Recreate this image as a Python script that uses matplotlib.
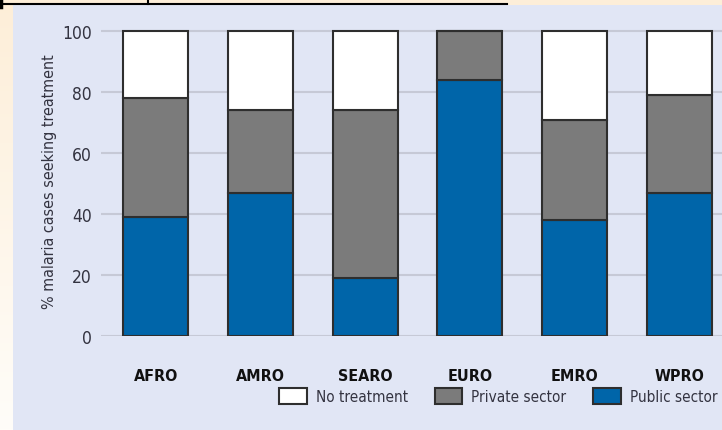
import numpy as np
import matplotlib
matplotlib.use('Agg')
import matplotlib.pyplot as plt
from matplotlib.patches import Rectangle, Patch
from matplotlib.lines import Line2D

plt.rcParams['font.family'] = ['DejaVu Sans']
plt.rcParams['font.stretch'] = 'condensed'

# data
regions = ['AFRO', 'AMRO', 'SEARO', 'EURO', 'EMRO', 'WPRO']
public_sector = [39, 47, 19, 84, 38, 47]
private_sector = [39, 27, 55, 16, 33, 32]
no_treatment = [22, 26, 26, 0, 29, 21]

blue = '#0065a9'
grey = '#7b7b7b'
edge = '#2e2e2e'
panel = '#e1e6f5'

fig = plt.figure(figsize=(7.22, 4.31), dpi=100)

# cream slide background with a soft vertical gradient
bg = fig.add_axes([0, 0, 1, 1], zorder=-10)
grad = np.linspace(0, 1, 256).reshape(-1, 1)
bg.imshow(grad, aspect='auto', extent=[0, 1, 0, 1],
          cmap=matplotlib.colors.LinearSegmentedColormap.from_list('bg', ['#fffdf9', '#fdeed8']),
          origin='lower')
bg.set_axis_off()
fig.add_artist(Rectangle((13/722, 0), 1, 1 - 6/431, transform=fig.transFigure,
                         facecolor=panel, edgecolor='none', zorder=-5))
# black rules at the top left
fig.add_artist(Line2D([0, 507/722], [1 - 5/431, 1 - 5/431], transform=fig.transFigure, color='black', lw=1.5))
fig.add_artist(Line2D([148/722, 148/722], [1, 1 - 5/431], transform=fig.transFigure, color='black', lw=1.5))
fig.add_artist(Line2D([1/722, 1/722], [1, 1 - 8/431], transform=fig.transFigure, color='black', lw=2.5))

ax = fig.add_axes([101/722, 94/431, 1 - 101/722, 311/431])
ax.set_facecolor('none')
x = np.arange(len(regions))
w = 0.62
bottom2 = np.array(public_sector)
bottom3 = bottom2 + np.array(private_sector)
ax.bar(x, public_sector, w, color=blue, edgecolor=edge, lw=1.5, zorder=3)
ax.bar(x, private_sector, w, bottom=bottom2, color=grey, edgecolor=edge, lw=1.5, zorder=3)
ax.bar(x, no_treatment, w, bottom=bottom3, color='white', edgecolor=edge, lw=1.5, zorder=3)

ax.set_xlim(-0.525, 5.41)
ax.set_ylim(0, 102)
ax.set_yticks([0, 20, 40, 60, 80, 100])
ax.yaxis.grid(True, color='#c6c9d6', lw=1.5, zorder=0)
ax.set_xticks(x)
ax.set_xticklabels(regions, fontsize=11.5, fontweight='bold', color='#111111')
ax.tick_params(axis='x', length=0, pad=23)
ax.tick_params(axis='y', length=0, pad=6.5, labelsize=12.5, labelcolor='#333340')
for s in ax.spines.values():
    s.set_visible(False)
ax.set_ylabel('% malaria cases seeking treatment', fontsize=11.5, color='#333340')
ax.yaxis.set_label_coords(-0.071, 0.5)

handles = [Patch(facecolor='white', edgecolor=edge, lw=1.5, label='No treatment'),
           Patch(facecolor=grey, edgecolor=edge, lw=1.5, label='Private sector'),
           Patch(facecolor=blue, edgecolor=edge, lw=1.5, label='Public sector')]
leg = fig.legend(handles=handles, loc='center left', bbox_to_anchor=(279/722, 1 - 397/431),
                 ncol=3, frameon=False, borderpad=0, borderaxespad=0, fontsize=11,
                 handlelength=1.8, handleheight=1.2, handletextpad=0.6, columnspacing=1.75)
for t in leg.get_texts():
    t.set_color('#333340')

fig.savefig('out.png', dpi=100)
